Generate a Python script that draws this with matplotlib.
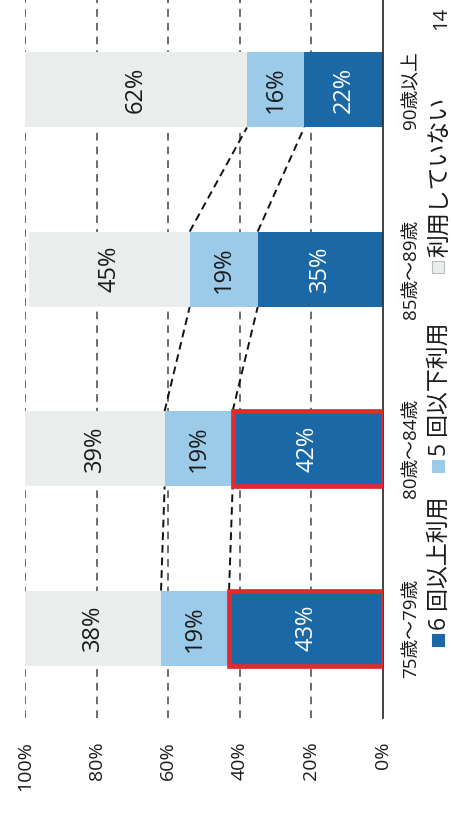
import numpy as np
import matplotlib.pyplot as plt
from matplotlib.patches import Rectangle

# fonts: latin digits in Open Sans, Japanese falls back to Noto CJK
plt.rcParams['font.family'] = ['Open Sans', 'Noto Sans CJK JP', 'DejaVu Sans']

## data
categories = ['75歳～79歳', '80歳～84歳', '85歳～89歳', '90歳以上']
use_6plus = [43, 42, 35, 22]
use_5less = [19, 19, 19, 16]
not_used = [38, 39, 45, 62]
series_names = ['6 回以上利用', '5 回以下利用', '利用していない']
highlight = [True, True, False, False]
ticks = [0, 20, 40, 60, 80, 100]

C_DARK = '#1b68a6'
C_LIGHT = '#9ccbea'
C_GRAY = '#e9eeed'
C_RED = '#e2292b'

W, H = 451, 830
fig = plt.figure(figsize=(W / 100, H / 100), dpi=100)
# chart is drawn sideways (page scanned rotated)
ax = fig.add_axes([25 / W, 1 - 718 / H, (383 - 25) / W, 718 / H])

y = np.arange(len(categories))
bh = 0.42
colors = [C_DARK, C_LIGHT, C_GRAY]
left = np.zeros(len(categories))
for vals, col in zip([use_6plus, use_5less, not_used], colors):
    ax.barh(y, vals, left=left, height=bh, color=col, zorder=2)
    for yi, l, v in zip(y, left, vals):
        ax.text(l + v / 2, yi, f'{v}%', rotation=90, ha='center', va='center',
                fontsize=17, color='white' if col == C_DARK else '#1a1a1a', zorder=4)
    left = left + np.array(vals)

# red highlight boxes
for yi, v, hl in zip(y, use_6plus, highlight):
    if hl:
        ax.barh(yi, v, height=bh, fill=False, edgecolor=C_RED, lw=3.4, zorder=3)

# series lines between bars
b1 = np.array(use_6plus)
b2 = b1 + np.array(use_5less)
for b in (b1, b2):
    for i in range(len(categories) - 1):
        ax.plot([b[i], b[i + 1]], [y[i] + bh / 2, y[i + 1] - bh / 2],
                color='#111111', lw=1.4, ls=(0, (4, 2.5)), zorder=1.5)

# grid
for t in ticks[1:]:
    ax.axvline(t, color='#444444', lw=1.1, ls=(0, (5, 4)), zorder=1)

ax.set_xlim(100, 0)
ax.set_ylim(-0.5, 3.5)
ax.set_xticks(ticks)
ax.set_xticklabels([f'{t}%' for t in ticks], rotation=90)
ax.tick_params(axis='x', length=0, pad=17, labelsize=14, colors='#1a1a1a')
ax.yaxis.tick_right()
ax.set_yticks(y)
ax.set_yticklabels(categories, rotation=90, va='center', ha='left')
ax.tick_params(axis='y', length=0, pad=14, labelsize=13.5, colors='#1a1a1a')
for s in ['top', 'left', 'bottom']:
    ax.spines[s].set_visible(False)
ax.spines['right'].set_color('#333333')
ax.spines['right'].set_linewidth(1.3)

# legend, drawn by hand so it can be turned sideways
leg_sq = [640, 466, 267]
for name, col, sy in zip(series_names, colors, leg_sq):
    fig.add_artist(Rectangle((432 / W, 1 - (sy + 6) / H), 12 / W, 12 / H,
                             transform=fig.transFigure, facecolor=col,
                             edgecolor='#bbbbbb' if col == C_GRAY else col, lw=0.8))
    fig.text(440 / W, 1 - (sy - 10) / H, name, rotation=90, ha='center', va='bottom',
             fontsize=16.5, color='#1a1a1a')

# page number at the page corner
fig.text(441 / W, 1 - 30 / H, '14', rotation=90, ha='center', va='bottom',
         fontsize=14.5, color='#222222')

fig.savefig('out.png', dpi=100)
